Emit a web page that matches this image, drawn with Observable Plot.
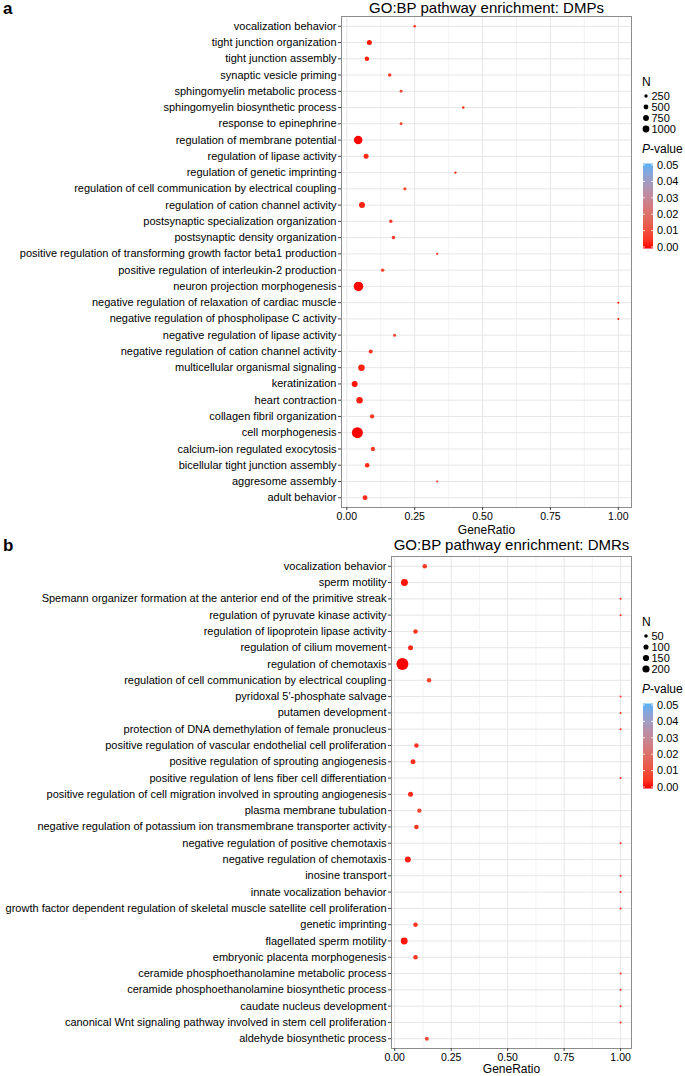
<!DOCTYPE html>
<html><head><meta charset="utf-8">
<script src="https://cdn.jsdelivr.net/npm/d3@7"></script>
<script src="https://cdn.jsdelivr.net/npm/@observablehq/plot@0.6"></script>
<style>
body{margin:0;background:#fff;font-family:"Liberation Sans",Arial,sans-serif;}
#wrap{position:relative;width:685px;height:1076px;overflow:hidden;}
.plab{position:absolute;left:3px;font-weight:bold;font-size:17px;line-height:17px;}
svg{display:block}
</style></head><body><div id="wrap"></div>
<script>
// ---------- Panel a: DMPs ----------
const dmpTerms = ["vocalization behavior","tight junction organization","tight junction assembly","synaptic vesicle priming","sphingomyelin metabolic process","sphingomyelin biosynthetic process","response to epinephrine","regulation of membrane potential","regulation of lipase activity","regulation of genetic imprinting","regulation of cell communication by electrical coupling","regulation of cation channel activity","postsynaptic specialization organization","postsynaptic density organization","positive regulation of transforming growth factor beta1 production","positive regulation of interleukin-2 production","neuron projection morphogenesis","negative regulation of relaxation of cardiac muscle","negative regulation of phospholipase C activity","negative regulation of lipase activity","negative regulation of cation channel activity","multicellular organismal signaling","keratinization","heart contraction","collagen fibril organization","cell morphogenesis","calcium-ion regulated exocytosis","bicellular tight junction assembly","aggresome assembly","adult behavior"];
const dmpRatio = [0.25,0.083,0.074,0.158,0.2,0.429,0.2,0.042,0.071,0.4,0.214,0.056,0.162,0.172,0.333,0.132,0.043,1.0,1.0,0.176,0.088,0.054,0.029,0.047,0.093,0.039,0.096,0.075,0.333,0.067];
const dmpN = [8,140,98,40,20,7,20,585,140,5,28,235,40,40,3,40,775,1,1,21,66,290,230,290,85,1100,90,100,3,130];
const dmpP = [0.004,0.001,0.002,0.006,0.008,0.003,0.008,0.0001,0.003,0.004,0.009,0.002,0.007,0.006,0.005,0.008,0.0001,0.001,0.001,0.009,0.004,0.002,0.001,0.002,0.005,0.00001,0.006,0.003,0.005,0.004];
const dmpSizeBreaks = [250,500,750,1000];

// ---------- Panel b: DMRs ----------
const dmrTerms = ["vocalization behavior","sperm motility","Spemann organizer formation at the anterior end of the primitive streak","regulation of pyruvate kinase activity","regulation of lipoprotein lipase activity","regulation of cilium movement","regulation of chemotaxis","regulation of cell communication by electrical coupling","pyridoxal 5'-phosphate salvage","putamen development","protection of DNA demethylation of female pronucleus","positive regulation of vascular endothelial cell proliferation","positive regulation of sprouting angiogenesis","positive regulation of lens fiber cell differentiation","positive regulation of cell migration involved in sprouting angiogenesis","plasma membrane tubulation","negative regulation of potassium ion transmembrane transporter activity","negative regulation of positive chemotaxis","negative regulation of chemotaxis","inosine transport","innate vocalization behavior","growth factor dependent regulation of skeletal muscle satellite cell proliferation","genetic imprinting","flagellated sperm motility","embryonic placenta morphogenesis","ceramide phosphoethanolamine metabolic process","ceramide phosphoethanolamine biosynthetic process","caudate nucleus development","canonical Wnt signaling pathway involved in stem cell proliferation","aldehyde biosynthetic process"];
const dmrRatio = [0.133,0.043,1,1,0.092,0.07,0.034,0.152,1,1,1,0.096,0.081,1,0.07,0.109,0.096,1,0.058,1,1,1,0.092,0.042,0.092,1,1,1,1,0.142];
const dmrN = [21,65,1,1,21,28,230,20,1,1,1,21,27,1,28,18,21,1,44,1,1,1,22,62,22,1,1,1,1,14];
const dmrP = [0.006,0.001,0.004,0.004,0.005,0.003,0.00001,0.007,0.004,0.004,0.004,0.005,0.004,0.004,0.003,0.007,0.005,0.004,0.002,0.004,0.004,0.004,0.005,0.001,0.005,0.004,0.004,0.004,0.004,0.008];
const dmrSizeBreaks = [50,100,150,200];

const pBreaks = [0,0.01,0.02,0.03,0.04,0.05];
const xTicks = [0,0.25,0.5,0.75,1];
const xMinor = [0.125,0.375,0.625,0.875];
const FONT = "Liberation Sans, Arial, sans-serif";
const LOW = "red", HIGH = "#56B1F7";

function panel(cfg){
  const data = cfg.terms.map((t,i)=>({term:t, ratio:cfg.ratio[i], n:cfg.n[i], p:cfg.p[i]}));
  const [lo,hi] = d3.extent(cfg.ratio);
  const pad = (hi-lo)*0.05;
  const H = cfg.height;
  const chart = Plot.plot({
    width:685, height:H,
    marginLeft:cfg.marginLeft, marginRight:54, marginTop:cfg.marginTop, marginBottom:cfg.marginBottom,
    style:{fontFamily:FONT, fontSize:"11px", color:"black", background:"white", overflow:"visible"},
    x:{domain:[lo-pad, hi+pad]},
    y:{type:"point", domain:cfg.terms, padding:0.6, round:false},
    r:{type:"sqrt", domain:[1, d3.max(cfg.n)], range:[1, cfg.rMax]},
    color:{type:"linear", domain:[0,0.05], range:[LOW,HIGH], interpolate:"lab"},
    marks:[
      Plot.ruleX(xMinor, {stroke:"#f0f0f0", strokeWidth:0.8}),
      Plot.ruleX(xTicks, {stroke:"#e6e6e6", strokeWidth:1}),
      Plot.ruleY(cfg.terms, {stroke:"#e6e6e6", strokeWidth:1}),
      Plot.dot(data, {x:"ratio", y:"term", r:"n", fill:"p", stroke:null}),
      Plot.frame({stroke:"#8c8c8c", strokeWidth:1}),
      Plot.axisX({ticks:xTicks, tickFormat:d3.format(".2f"), tickSize:3, tickPadding:2, label:null, fontSize:10.5, stroke:"#444"}),
      Plot.axisY({tickSize:3, tickPadding:2, label:null, fontSize:11, stroke:"#444", textOverflow:null, lineWidth:Infinity}),
      Plot.text([cfg.title], {frameAnchor:"top", lineAnchor:"middle", dy:cfg.titleDy, fontSize:15, text:d=>d}),
      Plot.text(["GeneRatio"], {frameAnchor:"bottom", lineAnchor:"middle", dy:cfg.labelDy, fontSize:12, text:d=>d})
    ]
  });
  // legends (right side)
  const svg = d3.select(chart);
  const g = svg.append("g").attr("font-family", FONT).attr("fill","black").attr("text-anchor","start");
  const L = cfg.legend;
  const top = cfg.marginTop;
  g.append("text").attr("x", L.x).attr("y", top+66).attr("dy","0.35em").attr("font-size",12).text("N");
  const rl = d3.scaleSqrt().domain([0, d3.max(cfg.sizeBreaks)]).range([0, L.rLegend]);
  cfg.sizeBreaks.forEach((b,i)=>{
    const y = top + 80 + i*11;
    g.append("circle").attr("cx", L.x+4).attr("cy", y).attr("r", rl(b)).attr("fill","black");
    g.append("text").attr("x", L.x+9.5).attr("y", y).attr("dy","0.35em").attr("font-size",11).text(b);
  });
  const pt = g.append("text").attr("x", L.x).attr("y", top+133).attr("dy","0.35em").attr("font-size",12);
  pt.append("tspan").attr("font-style","italic").text("P");
  pt.append("tspan").text("-value");
  const gid = "grad"+cfg.id;
  const grad = svg.append("defs").append("linearGradient").attr("id", gid).attr("x1",0).attr("x2",0).attr("y1",1).attr("y2",0);
  const interp = d3.interpolateLab(LOW, HIGH);
  d3.range(0,1.0001,0.1).forEach(t=>grad.append("stop").attr("offset", t).attr("stop-color", interp(t)));
  const barTop = top+149, barBottom = top+231;
  const yb = d3.scaleLinear().domain([0,0.05]).range([barBottom, barTop]);
  g.append("rect").attr("x", L.x+1).attr("y", barTop-1.5).attr("width", 10).attr("height", barBottom-barTop+3).attr("fill", `url(#${gid})`);
  pBreaks.forEach(v=>{
    const y = yb(v);
    g.append("line").attr("x1",L.x+1).attr("x2",L.x+3).attr("y1",y).attr("y2",y).attr("stroke","white").attr("stroke-width",0.8);
    g.append("line").attr("x1",L.x+9).attr("x2",L.x+11).attr("y1",y).attr("y2",y).attr("stroke","white").attr("stroke-width",0.8);
    g.append("text").attr("x", L.x+15).attr("y", y).attr("dy","0.35em").attr("font-size",11).text(d3.format(".2f")(v));
  });
  return chart;
}

const wrap = document.getElementById("wrap");
const a = panel({id:"a", terms:dmpTerms, ratio:dmpRatio, n:dmpN, p:dmpP, sizeBreaks:dmpSizeBreaks, height:536,
  title:"GO:BP pathway enrichment: DMPs", marginLeft:341, marginTop:16, marginBottom:29, titleDy:-8, labelDy:22.5, rMax:5.5,
  legend:{x:642, rLegend:3.4}});
const b = panel({id:"b", terms:dmrTerms, ratio:dmrRatio, n:dmrN, p:dmrP, sizeBreaks:dmrSizeBreaks, height:540,
  title:"GO:BP pathway enrichment: DMRs", marginLeft:391, marginTop:20, marginBottom:28, titleDy:-11, labelDy:20.5, rMax:6,
  legend:{x:642, rLegend:3.6}});
a.style.position="absolute"; a.style.left="0px"; a.style.top="0px";
b.style.position="absolute"; b.style.left="0px"; b.style.top="536px";
wrap.appendChild(a); wrap.appendChild(b);
const la = document.createElement("div"); la.className="plab"; la.style.top="0px"; la.textContent="a"; wrap.appendChild(la);
const lb = document.createElement("div"); lb.className="plab"; lb.style.top="537px"; lb.textContent="b"; wrap.appendChild(lb);
</script></body></html>
